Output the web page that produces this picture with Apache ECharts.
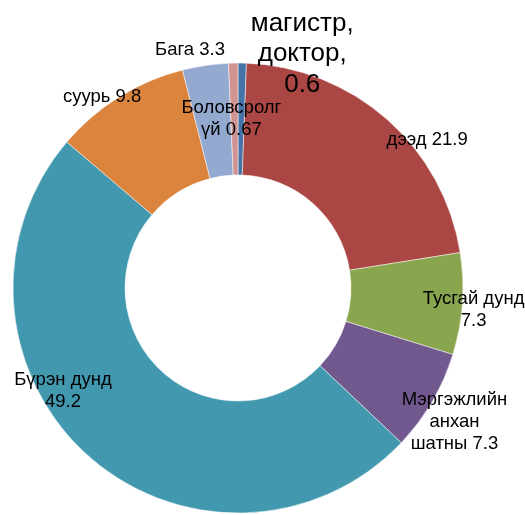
<!DOCTYPE html>
<html>
<head>
<meta charset="utf-8">
<script src="https://cdn.jsdelivr.net/npm/echarts@6/dist/echarts.min.js"></script>
<style>
  html, body { margin: 0; padding: 0; background: #fff; }
  #chart { width: 525px; height: 515px; }
</style>
</head>
<body>
<div id="chart"></div>
<script>
// боловсролын түвшин, хувь
const names = ['магистр, доктор', 'дээд', 'Тусгай дунд', 'Мэргэжлийн анхан шатны', 'Бүрэн дунд', 'суурь', 'Бага', 'Боловсролгүй'];
const values = [0.6, 21.9, 7.3, 7.3, 49.2, 9.8, 3.3, 0.67];
const labelTexts = [
  'магистр,\nдоктор,\n0.6',
  'дээд 21.9',
  'Тусгай дунд\n7.3',
  'Мэргэжлийн\nанхан\nшатны 7.3',
  'Бүрэн дунд\n49.2',
  'суурь 9.8',
  'Бага 3.3',
  'Боловсролг\nүй 0.67'
];
const colors = ['#4572A7', '#AA4643', '#89A54E', '#71588F', '#4198AF', '#DB843D', '#93A9CF', '#D19392'];
// label shifts from the default inside position
const labelOffsets = [[61, -62], [75, -19], [64, 10], [68, 47], [-60, -25], [-45, -45], [-23, -68], [-3, 3]];

const chart = echarts.init(document.getElementById('chart'));
const option = {
  animation: false,
  series: [{
    type: 'pie',
    center: [238, 288],
    radius: [113, 225],
    startAngle: 90,
    clockwise: true,
    avoidLabelOverlap: false,
    labelLayout: { hideOverlap: false },
    emphasis: { disabled: true },
    itemStyle: { borderColor: '#fff', borderWidth: 0.5 },
    labelLine: { show: false },
    data: names.map((name, i) => ({
      name: name,
      value: values[i],
      itemStyle: { color: colors[i] },
      label: {
        show: true,
        position: 'inside',
        formatter: labelTexts[i],
        offset: labelOffsets[i],
        color: '#000',
        fontFamily: 'Liberation Sans, Arial, sans-serif',
        fontSize: i === 0 ? 26 : 18.5,
        lineHeight: i === 0 ? 30.5 : 22,
        align: 'center'
      }
    }))
  }]
};
chart.setOption(option);
</script>
</body>
</html>
